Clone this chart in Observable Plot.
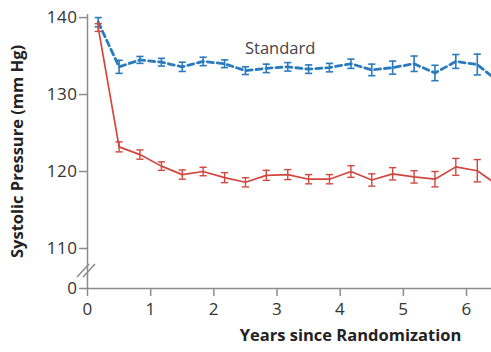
<!DOCTYPE html>
<html><head><meta charset="utf-8">
<script src="https://cdn.jsdelivr.net/npm/d3@7"></script>
<script src="https://cdn.jsdelivr.net/npm/@observablehq/plot@0.6"></script>
<style>body{margin:0;background:#fff}</style>
</head><body><div id="chart"></div>
<script>
const years = [0.17, 0.5, 0.83, 1.17, 1.5, 1.83, 2.17, 2.5, 2.83, 3.17, 3.5, 3.83, 4.17, 4.5, 4.83, 5.17, 5.5, 5.83, 6.17, 6.5];
const standard = [139.4, 133.6, 134.5, 134.2, 133.6, 134.3, 134.0, 133.1, 133.4, 133.6, 133.3, 133.5, 134.0, 133.2, 133.5, 134.0, 132.8, 134.3, 133.9, 131.7];
const standardErr = [0.6, 0.85, 0.45, 0.5, 0.6, 0.55, 0.5, 0.5, 0.55, 0.55, 0.55, 0.55, 0.6, 0.75, 0.85, 1.0, 1.0, 0.9, 1.35, 1.5];
const intensive = [138.7, 123.2, 122.2, 120.7, 119.6, 120.0, 119.2, 118.6, 119.5, 119.6, 119.0, 119.0, 120.0, 118.9, 119.7, 119.3, 119.0, 120.6, 120.1, 118.2];
const intensiveErr = [0.5, 0.65, 0.6, 0.55, 0.6, 0.55, 0.65, 0.6, 0.65, 0.65, 0.6, 0.6, 0.75, 0.8, 0.8, 0.8, 1.0, 1.1, 1.45, 1.5];
const xTicks = [0, 1, 2, 3, 4, 5, 6];
// broken axis: the value 0 is drawn at the position of 104.8
const zeroAt = 104.8;
const yTicks = [zeroAt, 110, 120, 130, 140];
const yTickLabels = ["0", "110", "120", "130", "140"];
const seriesLabels = [{name: "Standard", x: 3.05, y: 135.9}];
const xTitle = "Years since Randomization";
const yTitle = "Systolic Pressure (mm Hg)";

const rows = (vals, errs) => years.map((t, i) => ({t, v: vals[i], lo: vals[i] - errs[i], hi: vals[i] + errs[i]}));
const std = rows(standard, standardErr);
const ins = rows(intensive, intensiveErr);

const blue = "#2a7bbd", red = "#d2473d", axisGray = "#8c8c8c";
const cap = {draw(ctx, size) { const r = Math.sqrt(size / Math.PI); ctx.moveTo(-r, 0); ctx.lineTo(r, 0); }};

const errMarks = (data, color, w) => [
  Plot.ruleX(data, {x: "t", y1: "lo", y2: "hi", stroke: color, strokeWidth: w, clip: true}),
  Plot.dot(data, {x: "t", y: "lo", symbol: cap, r: 3.6, fill: "none", stroke: color, strokeWidth: w, clip: true}),
  Plot.dot(data, {x: "t", y: "hi", symbol: cap, r: 3.6, fill: "none", stroke: color, strokeWidth: w, clip: true})
];

const plot = Plot.plot({
  width: 491, height: 352,
  marginLeft: 87, marginRight: 0, marginTop: 14, marginBottom: 64,
  style: {fontFamily: "'Open Sans', sans-serif", fontSize: "16px", color: "#333", background: "#fff", overflow: "visible"},
  x: {domain: [0, 6.395], ticks: xTicks, tickSize: 8, tickPadding: 6, label: null, tickFormat: d3.format("d")},
  y: {domain: [zeroAt, 140.4], ticks: yTicks, tickSize: 8, tickPadding: 2, label: null,
      tickFormat: d => yTickLabels[yTicks.indexOf(d)]},
  marks: [
    Plot.ruleX([0], {stroke: axisGray, strokeWidth: 1.5}),
    Plot.ruleY([zeroAt], {stroke: axisGray, strokeWidth: 1.5}),
    Plot.line(std, {x: "t", y: "v", stroke: blue, strokeWidth: 2.8, strokeDasharray: "6,4", clip: true}),
    ...errMarks(std, blue, 1.6),
    Plot.line(ins, {x: "t", y: "v", stroke: red, strokeWidth: 1.7, clip: true}),
    ...errMarks(ins, red, 1.4),
    Plot.text(seriesLabels, {x: "x", y: "y", text: "name", fill: "#444", fontSize: 16.5}),
    Plot.text([xTitle], {frameAnchor: "bottom", textAnchor: "middle", dx: 61, dy: 52, fontWeight: "bold", fontSize: 16.5, fill: "#222"}),
    Plot.text([yTitle], {frameAnchor: "left", textAnchor: "middle", dx: -70, dy: 0, rotate: -90, fontWeight: "bold", fontSize: 16.5, fill: "#222"})
  ]
});
document.getElementById("chart").appendChild(plot);

// axis break marks on the y axis between 0 and 110
const svg = d3.select(plot);
const ys = plot.scale("y"), xs = plot.scale("x");
const yb = (ys.apply(zeroAt) + ys.apply(110)) / 2 + 2, xb = xs.apply(0);
for (const off of [-3, 3]) {
  svg.append("line").attr("x1", xb - 7 + off).attr("y1", yb + 7).attr("x2", xb + 5 + off).attr("y2", yb - 6)
    .attr("stroke", axisGray).attr("stroke-width", 1.5);
}
svg.selectAll("g[aria-label$='tick'] path, g[aria-label$='tick'] line").attr("stroke", axisGray).attr("stroke-width", 1.5);
svg.selectAll("g[aria-label$='tick label'] text, g[aria-label$='axis'] text").attr("font-size", 17).style("font-size", "17px").attr("letter-spacing", "0.5px");
</script>
</body></html>
